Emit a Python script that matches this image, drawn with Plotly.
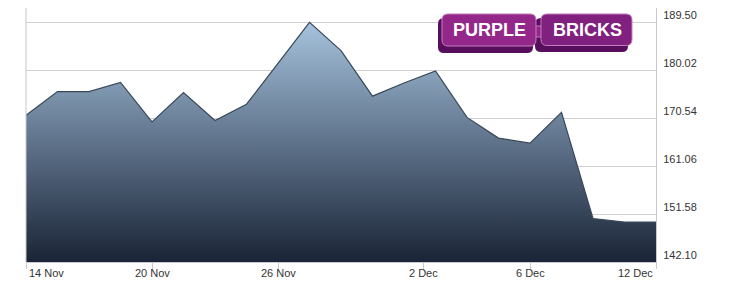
import plotly.graph_objects as go

# ---- data ----
session = [0, 1, 2, 3, 4, 5, 6, 7, 8, 9, 10, 11, 12, 13, 14, 15, 16, 17, 18, 19, 20]
price = [171.1, 175.8, 175.8, 177.6, 169.8, 175.6, 170.1, 173.3, 181.4, 189.5,
         183.9, 174.9, 177.5, 179.9, 170.7, 166.6, 165.6, 171.7, 150.7, 150.0, 150.0]
x_tick_pos = [0, 4, 8, 12.63, 16, 20]
x_tick_text = ["14 Nov", "20 Nov", "26 Nov", "2 Dec", "6 Dec", "12 Dec"]
y_tick_vals = [142.10, 151.58, 161.06, 170.54, 180.02, 189.50]
y_tick_text = ["142.10", "151.58", "161.06", "170.54", "180.02", "189.50"]

W, H = 730, 285
ML, MR, MT, MB = 26, 74, 8, 23
PW, PH = W - ML - MR, H - MT - MB


def px(x):
    return (x - ML) / PW


def py(y):
    return (H - MB - y) / PH


def rrect(x0, y0, x1, y1, r):
    pts = [
        ("M", [(x0 + r, y0)]), ("L", [(x1 - r, y0)]), ("Q", [(x1, y0), (x1, y0 + r)]),
        ("L", [(x1, y1 - r)]), ("Q", [(x1, y1), (x1 - r, y1)]),
        ("L", [(x0 + r, y1)]), ("Q", [(x0, y1), (x0, y1 - r)]),
        ("L", [(x0, y0 + r)]), ("Q", [(x0, y0), (x0 + r, y0)]),
    ]
    s = ""
    for cmd, ps in pts:
        s += cmd + " " + " ".join(f"{px(a):.5f},{py(b):.5f}" for a, b in ps) + " "
    return s + "Z"


fig = go.Figure()
fig.add_trace(go.Scatter(
    x=session, y=price, mode="lines", fill="tozeroy",
    line=dict(color="#3a4859", width=1.2),
    fillgradient=dict(type="vertical", start=142.1, stop=189.5,
                      colorscale=[[0, "#1a2436"], [0.5, "#5f738b"], [1, "#a6c2dc"]]),
    hoverinfo="x+y", showlegend=False,
))

shapes = [
    dict(type="line", xref="paper", yref="paper", x0=0, x1=0, y0=0, y1=1,
         line=dict(color="#c8c8c8", width=1), layer="above"),
]
shadow = "#560e5d"
face_l = "#93278a"
face_r = "#80207f"
edge = "#c47cbd"
shapes += [
    dict(type="path", xref="paper", yref="paper", path=rrect(438, 18, 533, 53, 6),
         fillcolor=shadow, line=dict(width=0)),
    dict(type="path", xref="paper", yref="paper", path=rrect(535, 18, 628, 52, 6),
         fillcolor=shadow, line=dict(width=0)),
    dict(type="path", xref="paper", yref="paper", path=rrect(530, 26, 546, 37, 2),
         fillcolor=face_l, line=dict(color=edge, width=1)),
    dict(type="path", xref="paper", yref="paper", path=rrect(442, 14, 536, 46, 6),
         fillcolor=face_l, line=dict(color=edge, width=1)),
    dict(type="path", xref="paper", yref="paper", path=rrect(541, 14, 632, 45.5, 6),
         fillcolor=face_r, line=dict(color=edge, width=1)),
]

annotations = [
    dict(text="PURPLE", xref="paper", yref="paper", x=px(489), y=py(30.5),
         xanchor="center", yanchor="middle", showarrow=False,
         font=dict(family="Liberation Sans", size=18, color="white", weight="bold")),
    dict(text="BRICKS", xref="paper", yref="paper", x=px(587), y=py(30.5),
         xanchor="center", yanchor="middle", showarrow=False,
         font=dict(family="Liberation Sans", size=18, color="white", weight="bold")),
]
for i, (xv, t) in enumerate(zip(x_tick_pos, x_tick_text)):
    anchor = "left" if i == 0 else ("right" if i == len(x_tick_pos) - 1 else "center")
    shift = 1 if i == 0 else (-1 if i == len(x_tick_pos) - 1 else 0)
    annotations.append(dict(
        text=t, xref="x", yref="paper", x=xv, y=0, xanchor=anchor, yanchor="top",
        xshift=shift, yshift=-3, showarrow=False,
        font=dict(family="Liberation Sans", size=11, color="#333333")))

fig.update_layout(
    width=W, height=H,
    margin=dict(l=ML, r=MR, t=MT, b=MB, pad=0),
    paper_bgcolor="white", plot_bgcolor="white",
    shapes=shapes, annotations=annotations,
    xaxis=dict(range=[0, 20], showgrid=False, zeroline=False,
               showline=True, linecolor="#c8ccd2", linewidth=1,
               tickmode="array", tickvals=x_tick_pos, ticktext=x_tick_text,
               showticklabels=False, ticks="outside", ticklen=6,
               tickcolor="#c8ccd2", fixedrange=True),
    yaxis=dict(range=[142.1, 192.33], side="right", showgrid=True,
               gridcolor="#d0d0d0", gridwidth=1, zeroline=False,
               showline=True, linecolor="#c8c8c8", linewidth=1,
               tickmode="array", tickvals=y_tick_vals, ticktext=y_tick_text,
               ticks="", ticklabelshift=-7, ticklabelstandoff=4,
               tickfont=dict(family="Liberation Sans", size=11, color="#333333"),
               fixedrange=True),
)

fig.write_html("out.html", config={"displayModeBar": False})
